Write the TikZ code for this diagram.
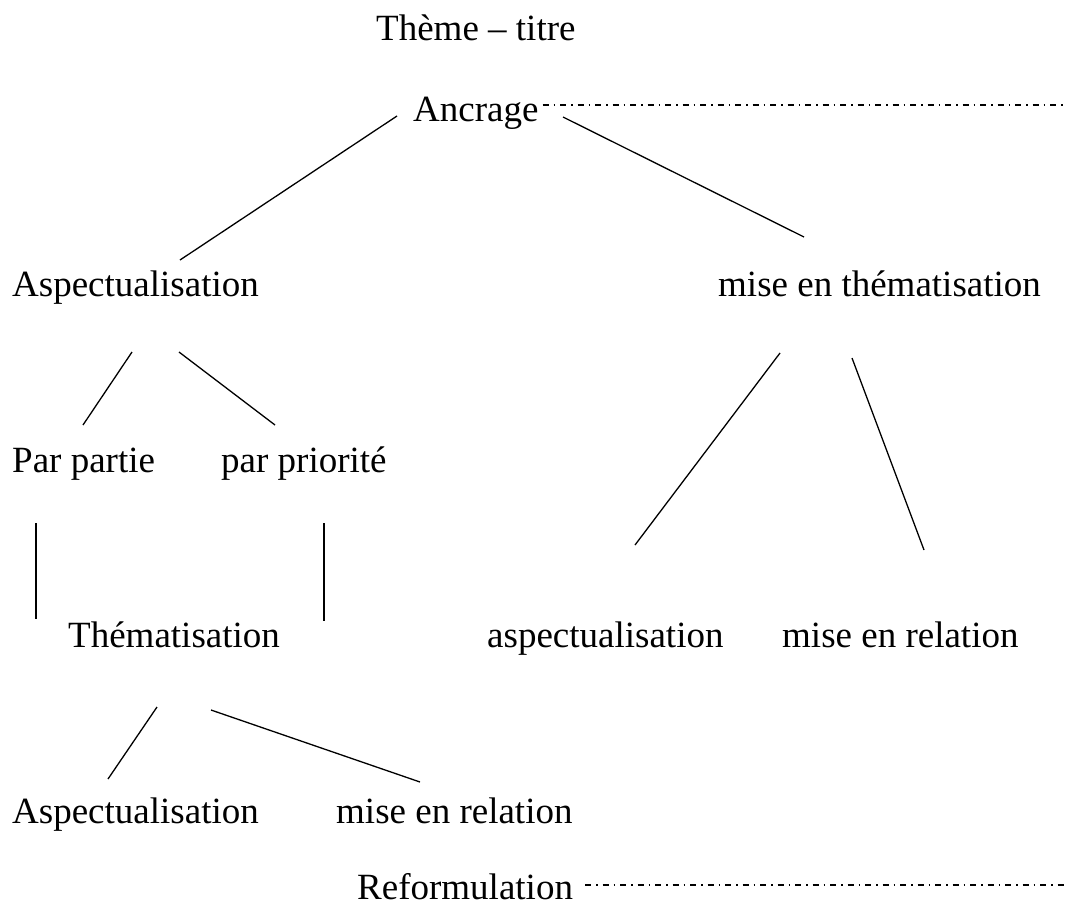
\documentclass[tikz,border=0pt]{standalone}
\usepackage{fontspec}
\setmainfont{Liberation Serif}
\begin{document}
\begin{tikzpicture}[x=1pt,y=-1pt,
  lbl/.style={anchor=base west, inner sep=0pt, font=\fontsize{37}{44}\selectfont},
  branch/.style={line width=1.3pt},
  guide/.style={line width=1.1pt, dash pattern=on 6pt off 5pt on 1.5pt off 5pt}]
\useasboundingbox (0,0) rectangle (1067,908);

% labels
\node[lbl] (theme)   at (376,40)  {Thème – titre};
\node[lbl] (ancrage) at (413,121) {Ancrage};
\node[lbl] (aspA)    at (12,296)  {Aspectualisation};
\node[lbl] (miseth)  at (718,296) {mise en thématisation};
\node[lbl] (parpart) at (12,472)  {Par partie};
\node[lbl] (parprio) at (221,472) {par priorité};
\node[lbl] (themat)  at (68,647)  {Thématisation};
\node[lbl] (aspR)    at (487,647) {aspectualisation};
\node[lbl] (relR)    at (782,647) {mise en relation};
\node[lbl] (aspB)    at (12,823)  {Aspectualisation};
\node[lbl] (relB)    at (336,823) {mise en relation};
\node[lbl] (reform)  at (357,899) {Reformulation};

% free ends of the tree branches
\coordinate (anc-l)  at (397,116);
\coordinate (anc-r)  at (563,117);
\coordinate (aspA-t) at (180,260);
\coordinate (mth-t)  at (804,237);
\coordinate (aspA-l) at (132,352);
\coordinate (aspA-r) at (179,352);
\coordinate (pp-t)   at (83,425);
\coordinate (pr-t)   at (275,425);
\coordinate (pp-b)   at (36,523);
\coordinate (th-l)   at (36,619);
\coordinate (pr-b)   at (324,523);
\coordinate (th-r)   at (324,621);
\coordinate (th-bl)  at (157,707);
\coordinate (th-br)  at (211,710);
\coordinate (aspB-t) at (108,779);
\coordinate (relB-t) at (420,782);
\coordinate (mth-l)  at (780,353);
\coordinate (mth-r)  at (852,358);
\coordinate (aspR-t) at (635,545);
\coordinate (relR-t) at (924,550);

% branches
\draw[branch] (anc-l) -- (aspA-t);
\draw[branch] (anc-r) -- (mth-t);
\draw[branch] (aspA-l) -- (pp-t);
\draw[branch] (aspA-r) -- (pr-t);
\draw[branch] (pp-b) -- (th-l);
\draw[branch] (pr-b) -- (th-r);
\draw[branch] (th-bl) -- (aspB-t);
\draw[branch] (th-br) -- (relB-t);
\draw[branch] (mth-l) -- (aspR-t);
\draw[branch] (mth-r) -- (relR-t);

% dash-dot guide lines
\coordinate (anc-end) at (1067,105);
\coordinate (ref-end) at (1067,885);
\draw[guide] ([xshift=4pt,yshift=16pt]ancrage.base east) -- (anc-end);
\draw[guide] ([xshift=12pt,yshift=14pt]reform.base east) -- (ref-end);
\end{tikzpicture}
\end{document}
